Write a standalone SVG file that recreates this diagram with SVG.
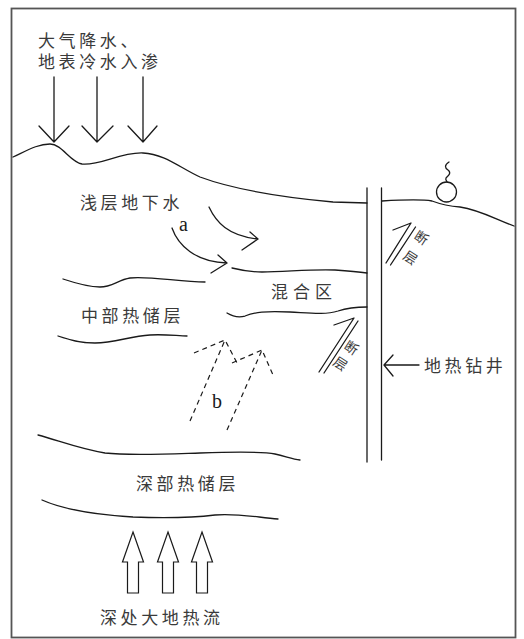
<svg xmlns="http://www.w3.org/2000/svg" width="524" height="639" viewBox="0 0 524 639">
  <style>
    .ln { fill: none; stroke: #1a1a1a; stroke-width: 1.3; stroke-linecap: round; stroke-linejoin: round; }
    .dash { fill: none; stroke: #1a1a1a; stroke-width: 1.2; stroke-dasharray: 5 4; }
    .hollow { fill: #fff; stroke: #1a1a1a; stroke-width: 1.2; stroke-linejoin: miter; }
    .lbl { font-family: "Noto Sans CJK SC", "Noto Sans", sans-serif; font-size: 17px; fill: #3a3a3a; letter-spacing: 3.6px; }
    .small { font-family: "Noto Sans CJK SC", "Noto Sans", sans-serif; font-size: 13.5px; fill: #3a3a3a; }
    .serif { font-family: "Liberation Serif", serif; font-size: 20px; fill: #1a1a1a; }
  </style>

  <!-- frame -->
  <rect x="11.5" y="8.5" width="504" height="629" fill="#fff" stroke="#555" stroke-width="1.8"/>

  <!-- ground surface -->
  <g id="surface">
    <path class="ln" d="M13,157 C28,150 38,144 50,144 C62,144 70,162 82,164 C100,166 120,152 143,153 C165,154 180,168 200,177 C235,190 290,198 333,202 L367,203"/>
    <path class="ln" d="M382,201 C400,200 420,199 432,201 C440,204 446,206 460,207 C480,210 495,219 514,226"/>
  </g>

  <!-- hot spring symbol -->
  <g id="spring">
    <circle cx="446.5" cy="192" r="10" fill="none" stroke="#1a1a1a" stroke-width="1.3"/>
    <path class="ln" d="M449,162 C444,165 445,168 448,170 C452,173 448,176 446,178 C445,180 447,181 447,182"/>
  </g>

  <!-- mixing zone boundaries -->
  <g id="mixing-zone">
    <path class="ln" d="M232,268 C240,270 248,272 262,272 C285,272 310,269 335,270 C350,271 360,272 367,273"/>
    <path class="ln" d="M227,313 C232,316 238,318 245,316 C255,312 265,311 290,312 C310,313 325,315 338,311 C350,307 360,307 367,307"/>
    <text class="lbl" x="271" y="298" style="letter-spacing:5px">混合区</text>
  </g>

  <!-- middle reservoir -->
  <g id="middle-reservoir">
    <path class="ln" d="M63,279 C75,283 88,287 100,287 C112,287 118,280 130,278 C150,276 180,282 205,282"/>
    <path class="ln" d="M58,336 C70,340 80,343 95,343 C115,343 130,336 150,335 C165,334 178,336 187,336"/>
    <text class="lbl" x="81" y="322">中部热储层</text>
  </g>

  <!-- deep reservoir -->
  <g id="deep-reservoir">
    <path class="ln" d="M38,435 C60,441 80,449 105,453 C130,456 170,454 200,453 C230,452 260,451 275,454 C285,456 292,459 300,460"/>
    <path class="ln" d="M42,500 C60,508 85,514 133,517 C160,518 190,518 215,515 C235,513 255,517 278,519"/>
    <text class="lbl" x="136" y="490">深部热储层</text>
  </g>

  <!-- geothermal well -->
  <g id="well">
    <line class="ln" x1="367" y1="188" x2="367" y2="462"/>
    <line class="ln" x1="381.5" y1="188" x2="381.5" y2="460"/>
    <text class="lbl" x="424" y="372">地热钻井</text>
  </g>

  <!-- faults -->
  <g id="fault-upper">
    <path class="ln" d="M386,263 L411,223 L393,230"/>
    <line class="ln" x1="390.5" y1="265" x2="415.5" y2="227"/>
    <text class="small" transform="translate(422,237) rotate(33)" text-anchor="middle" dominant-baseline="central">断</text>
    <text class="small" transform="translate(411,257) rotate(33)" text-anchor="middle" dominant-baseline="central">层</text>
  </g>
  <g id="fault-lower">
    <path class="ln" d="M319,372 L354,318 L334,325"/>
    <line class="ln" x1="324" y1="373" x2="358" y2="321"/>
    <text class="small" transform="translate(352,347) rotate(33)" text-anchor="middle" dominant-baseline="central">断</text>
    <text class="small" transform="translate(341,363) rotate(33)" text-anchor="middle" dominant-baseline="central">层</text>
  </g>

  <!-- labels -->
  <g id="recharge-label">
    <text class="lbl" x="38" y="47">大气降水、</text>
    <text class="lbl" x="38" y="67.5">地表冷水入渗</text>
  </g>
  <g id="shallow-label">
    <text class="lbl" x="80" y="209">浅层地下水</text>
  </g>
  <g id="heatflow-label">
    <text class="lbl" x="100" y="624">深处大地热流</text>
  </g>
  <g id="flow-labels">
    <text class="serif" x="179" y="231">a</text>
    <text class="serif" x="212" y="408">b</text>
  </g>

  <!-- connectors -->
  <g id="connectors">
    <!-- infiltration arrows -->
    <path class="ln" d="M54,77 V142 M39,126 L54,142 L69,126"/>
    <path class="ln" d="M97,77 V142 M82,126 L97,142 L113,126"/>
    <path class="ln" d="M143,77 V142 M128,126 L143,142 L157,126"/>

    <!-- flow a -->
    <path class="ln" d="M209,207 C216,222 228,236 258,239 M250,232 L258,239 L242,250"/>
    <path class="ln" d="M172,228 C178,245 195,262 227,263 M218,255 L227,263 L211,273"/>

    <!-- flow b (dashed) -->
    <path class="dash" d="M190,421 L225,340 M194,353 L225,340 L237,363"/>
    <path class="dash" d="M227,430 L262,350 M232,363 L262,350 L273,375"/>

    <!-- well pointer -->
    <path class="ln" d="M419,365 H384 M393,355 L384,365 L393,376"/>

    <!-- deep heat flow arrows -->
    <path class="hollow" d="M133,532 L143.5,562 L138.5,562 L138.5,593 L127.5,593 L127.5,562 L122.5,562 Z"/>
    <path class="hollow" d="M168,532 L178.5,562 L173.5,562 L173.5,593 L162.5,593 L162.5,562 L157.5,562 Z"/>
    <path class="hollow" d="M202,532 L212.5,562 L207.5,562 L207.5,593 L196.5,593 L196.5,562 L191.5,562 Z"/>
  </g>
</svg>
